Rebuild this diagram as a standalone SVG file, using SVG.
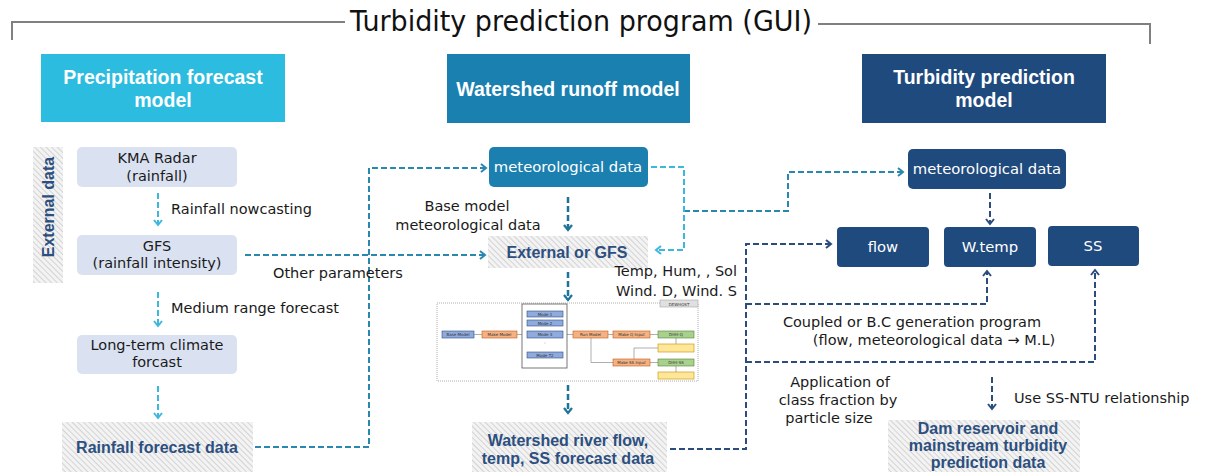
<svg xmlns="http://www.w3.org/2000/svg" width="1205" height="472" viewBox="0 0 1205 472">
<defs>
<style>
text{font-family:"DejaVu Sans","Noto Sans",sans-serif}
.hdr{fill:#fff;font-family:"Liberation Sans",Arial,sans-serif;font-weight:bold;font-size:19.5px;text-anchor:middle}
.lbl{fill:#1a1a1a;font-size:14.5px}
.c{text-anchor:middle}
.bt{fill:#2C4F7F;font-family:"Liberation Sans",Arial,sans-serif;font-weight:bold;font-size:16px;text-anchor:middle}
.wt{fill:#fff;font-size:14.8px;text-anchor:middle}
.lav{fill:#DAE2F2}
.hat{fill:url(#hatch)}
.dc{fill:none;stroke:#3DB8DC;stroke-width:2;stroke-dasharray:6 3}
.dt{fill:none;stroke:#2A87AD;stroke-width:2;stroke-dasharray:6 3}
.dd{fill:none;stroke:#1F7399;stroke-width:2.5;stroke-dasharray:6 3}
.dn{fill:none;stroke:#2A4D7E;stroke-width:2;stroke-dasharray:6 3}
.mb{fill:#8FAADC;stroke:#2F4F7F;stroke-width:0.6}
.mo{fill:#F4B183;stroke:#C55A11;stroke-width:0.6}
.mg{fill:#A9D18E;stroke:#548235;stroke-width:0.6}
.my{fill:#FFE699;stroke:#BF9000;stroke-width:0.6}
.mt{font-size:4px;fill:#333;text-anchor:middle}
.ml{stroke:#8c8c8c;stroke-width:0.7;fill:none}
</style>
<pattern id="hatch" width="4" height="4" patternUnits="userSpaceOnUse" patternTransform="rotate(-45)">
<rect width="4" height="4" fill="#F3F3F3"/>
<line x1="0" y1="0" x2="0" y2="4" stroke="#C6C6C6" stroke-width="1.4"/>
</pattern>
<marker id="aC" markerWidth="10" markerHeight="10" refX="7" refY="5" orient="auto" markerUnits="userSpaceOnUse"><path d="M2,1 L7,5 L2,9" fill="none" stroke="#3DB8DC" stroke-width="2"/></marker>
<marker id="aT" markerWidth="10" markerHeight="10" refX="7" refY="5" orient="auto" markerUnits="userSpaceOnUse"><path d="M2,1 L7,5 L2,9" fill="none" stroke="#2A87AD" stroke-width="2"/></marker>
<marker id="aD" markerWidth="10" markerHeight="10" refX="7" refY="5" orient="auto" markerUnits="userSpaceOnUse"><path d="M2,1 L7,5 L2,9" fill="none" stroke="#1F7399" stroke-width="2.2"/></marker>
<marker id="aN" markerWidth="10" markerHeight="10" refX="7" refY="5" orient="auto" markerUnits="userSpaceOnUse"><path d="M2,1 L7,5 L2,9" fill="none" stroke="#2A4D7E" stroke-width="2"/></marker>
</defs>
<rect width="1205" height="472" fill="#fff"/>

<g id="title">
<path d="M12,40 V22 H345" fill="none" stroke="#808080" stroke-width="2"/>
<path d="M818,24 H1150 V44" fill="none" stroke="#808080" stroke-width="2"/>
<text x="581" y="31" font-family="Noto Sans, sans-serif" font-size="29" fill="#111" text-anchor="middle" textLength="462" lengthAdjust="spacingAndGlyphs">Turbidity prediction program (GUI)</text>
</g>

<g id="hdr-precip">
<rect x="41" y="54" width="244" height="68" fill="#2BBCE0"/>
<text class="hdr" x="163" y="84">Precipitation forecast<tspan x="163" dy="23">model</tspan></text>
</g>
<g id="hdr-watershed">
<rect x="447" y="54" width="243" height="69" fill="#1A80B0"/>
<text class="hdr" x="568" y="96">Watershed runoff model</text>
</g>
<g id="hdr-turbidity">
<rect x="862" y="54" width="244" height="69" fill="#1F4A7E"/>
<text class="hdr" x="984" y="84">Turbidity prediction<tspan x="984" dy="23">model</tspan></text>
</g>

<g id="external-data">
<rect class="hat" x="33" y="147" width="30" height="136"/>
<text transform="translate(54,207) rotate(-90)" class="bt">External data</text>
</g>

<g id="kma">
<rect class="lav" x="77" y="147" width="160" height="40" rx="5"/>
<text class="lbl c" x="157" y="163">KMA Radar<tspan x="157" dy="18">(rainfall)</tspan></text>
</g>
<g id="gfs">
<rect class="lav" x="77" y="235" width="160" height="40" rx="5"/>
<text class="lbl c" x="157" y="251">GFS<tspan x="157" dy="17.2">(rainfall intensity)</tspan></text>
</g>
<g id="longterm">
<rect class="lav" x="77" y="335" width="160" height="39" rx="5"/>
<text class="lbl c" x="157" y="350">Long-term climate<tspan x="157" dy="17.2">forcast</tspan></text>
</g>
<g id="rainfall-data">
<rect class="hat" x="62" y="422" width="191" height="50"/>
<text class="bt" x="157" y="453">Rainfall forecast data</text>
</g>

<g id="met-mid">
<rect x="489" y="147" width="159" height="40" rx="5" fill="#1B80B0"/>
<text class="wt" x="568" y="172">meteorological data</text>
</g>
<g id="ext-gfs">
<rect class="hat" x="488" y="236" width="160" height="32"/>
<text class="bt" x="567" y="258">External or GFS</text>
</g>

<g id="model-image">
<rect x="437" y="303" width="261" height="78" fill="#fff" stroke="#9a9a9a" stroke-width="0.8" stroke-dasharray="1 1"/>
<rect x="660" y="300" width="38" height="7" fill="#e0e0e0" stroke="#999" stroke-width="0.5"/>
<text class="mt" x="679" y="305.5">DEWHOST</text>
<path class="ml" d="M474,334.5 H482 M517,334.5 H522 M567,334.5 H573 M608,334.5 H613 M650,334.5 H658 M591,338 V362.5 H613 M658,348 H634 V359 M650,362.5 H658 M676,338 V344 M676,366 V372"/>
<rect class="mb" x="442" y="331" width="32" height="7"/><text class="mt" x="458" y="336">Base Model</text>
<rect class="mo" x="482" y="331" width="35" height="7"/><text class="mt" x="499.5" y="336">Make Model</text>
<rect x="522" y="304" width="45" height="64" fill="#fff" stroke="#555" stroke-width="0.8"/>
<rect class="mb" x="527" y="311" width="36" height="6"/><text class="mt" x="545" y="315.5">Mode 1</text>
<rect class="mb" x="527" y="320" width="36" height="6"/><text class="mt" x="545" y="324.5">Mode 2</text>
<rect class="mb" x="527" y="331" width="36" height="7"/><text class="mt" x="545" y="336">Mode 3</text>
<text class="mt" x="545" y="344">:</text>
<rect class="mb" x="527" y="352" width="36" height="6"/><text class="mt" x="545" y="356.5">Mode 72</text>
<rect class="mo" x="573" y="331" width="35" height="7"/><text class="mt" x="590.5" y="336">Run Model</text>
<rect class="mo" x="613" y="331" width="37" height="7"/><text class="mt" x="631.5" y="336">Make Q Input</text>
<rect class="mg" x="658" y="331" width="36" height="7"/><text class="mt" x="676" y="336">DHH-Q</text>
<rect class="my" x="658" y="344" width="36" height="8"/>
<rect class="mo" x="613" y="359" width="37" height="7"/><text class="mt" x="631.5" y="364">Make SS Input</text>
<rect class="mg" x="658" y="359" width="36" height="7"/><text class="mt" x="676" y="364">DHH-SS</text>
<rect class="my" x="658" y="372" width="36" height="7"/>
</g>

<g id="watershed-data">
<rect class="hat" x="472" y="422" width="195" height="50"/>
<text class="bt" x="568" y="446">Watershed river flow,<tspan x="568" dy="18">temp, SS forecast data</tspan></text>
</g>

<g id="met-right">
<rect x="908" y="149" width="158" height="40" rx="5" fill="#1F4A7E"/>
<text class="wt" x="987" y="174">meteorological data</text>
</g>
<g id="flow">
<rect x="837" y="227" width="92" height="40" rx="4" fill="#1F4A7E"/>
<text class="wt" x="883" y="252">flow</text>
</g>
<g id="wtemp">
<rect x="944" y="227" width="92" height="40" rx="4" fill="#1F4A7E"/>
<text class="wt" x="990" y="252">W.temp</text>
</g>
<g id="ss">
<rect x="1048" y="226" width="91" height="40" rx="4" fill="#1F4A7E"/>
<text class="wt" x="1093" y="251">SS</text>
</g>
<g id="dam-data">
<rect class="hat" x="888" y="420" width="192" height="52"/>
<text class="bt" x="988" y="434" font-size="15">Dam reservoir and<tspan x="988" dy="17">mainstream turbidity</tspan><tspan x="988" dy="17">prediction data</tspan></text>
</g>

<g id="connectors">
<path class="dc" d="M158,193 V225" marker-end="url(#aC)"/>
<path class="dc" d="M158,292 V326" marker-end="url(#aC)"/>
<path class="dc" d="M158,386 V418" marker-end="url(#aC)"/>
<path class="dt" d="M255,447 H369 V168 H486" marker-end="url(#aT)"/>
<path class="dt" d="M245,255 H485" marker-end="url(#aT)"/>
<path class="dt" d="M684,211 H788 V172 H903" marker-end="url(#aT)"/>
<path class="dc" d="M651,167 H684 V250 H656" marker-end="url(#aC)"/>
<path class="dd" d="M568,197 V230" marker-end="url(#aD)"/>
<path class="dd" d="M568,272 V300" marker-end="url(#aD)"/>
<path class="dd" d="M568,385 V413" marker-end="url(#aD)"/>
<path class="dn" d="M670,449 H746 V244 H831" marker-end="url(#aN)"/>
<path class="dn" d="M746,304 H987 V271" marker-end="url(#aN)"/>
<path class="dn" d="M746,362 H1095 V270" marker-end="url(#aN)"/>
<path class="dn" d="M990,193 V224" marker-end="url(#aN)"/>
<path class="dn" d="M992,377 V409" marker-end="url(#aN)"/>
</g>

<g id="labels">
<text class="lbl" x="171" y="214">Rainfall nowcasting</text>
<text class="lbl" x="171" y="313">Medium range forecast</text>
<text class="lbl" x="273" y="278">Other parameters</text>
<text class="lbl c" x="467" y="211">Base model<tspan x="468" dy="19">meteorological data</tspan></text>
<text class="lbl" x="737" y="276" text-anchor="end">Temp, Hum, , Sol<tspan x="737" dy="20">Wind. D, Wind. S</tspan></text>
<text class="lbl c" x="912" y="327">Coupled or B.C generation program<tspan x="934" dy="17.5">(flow, meteorological data → M.L)</tspan></text>
<text class="lbl c" x="840" y="387">Application of<tspan x="838" dy="18">class fraction by</tspan><tspan x="829" dy="18">particle size</tspan></text>
<text class="lbl" x="1014" y="403">Use SS-NTU relationship</text>
</g>
</svg>
